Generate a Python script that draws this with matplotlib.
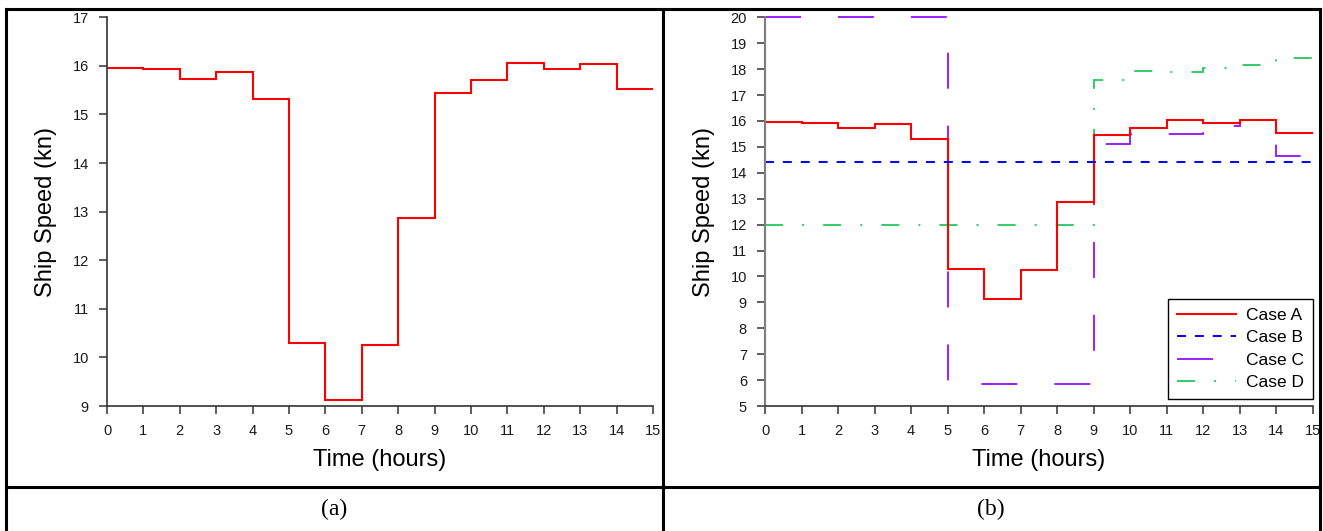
import numpy as np
import matplotlib
matplotlib.use("Agg")
import matplotlib.pyplot as plt
from matplotlib.lines import Line2D

plt.rcParams['font.family'] = ['Liberation Sans', 'DejaVu Sans']

# hourly speed profiles (kn), one value per hour 0-15
hours = np.arange(0, 16)
case_a = [15.95, 15.93, 15.73, 15.87, 15.32, 10.30, 9.12, 10.25, 12.87,
          15.45, 15.71, 16.05, 15.93, 16.03, 15.52]
case_b = [14.4] * 15
case_c = [20.0, 20.0, 20.0, 20.0, 20.0, 5.85, 5.85, 5.85, 5.85,
          15.10, 15.50, 15.50, 15.81, 16.02, 14.65]
case_d = [12.0, 12.0, 12.0, 12.0, 12.0, 12.0, 12.0, 12.0, 12.0,
          17.57, 17.92, 17.87, 18.06, 18.14, 18.42]

W, H = 1323, 531
fig = plt.figure(figsize=(W / 100, H / 100), dpi=100)

# dash patterns (in units of line width)
ls_b = (0, (4.6, 4.6))
ls_c = (0, (18.5, 19.0))
ls_d = (0, (9.3, 9.8, 1.0, 9.8))

def px_axes(x0, x1, ytop, ybot):
    return fig.add_axes([x0 / W, (H - ybot) / H, (x1 - x0) / W, (ybot - ytop) / H])

def style(ax, left_col):
    for s in ['top', 'right']:
        ax.spines[s].set_visible(False)
    ax.spines['bottom'].set_color('#333333')
    ax.spines['bottom'].set_linewidth(1.2)
    ax.spines['left'].set_color(left_col)
    ax.spines['left'].set_linewidth(1.6 if left_col != '#333333' else 1.2)
    ax.tick_params(direction='out', length=6, width=1.1, color='#333333',
                   labelsize=10.5, labelcolor='#1a1a1a', pad=7)
    ax.set_xlim(0, 15)
    ax.set_xticks(hours)
    ax.set_xlabel('Time (hours)', fontsize=17, labelpad=8)
    ax.set_ylabel('Ship Speed (kn)', fontsize=17, labelpad=11)

# (a)
ax1 = px_axes(107, 653, 17.3, 406)
ax1.stairs(case_a, hours, baseline=None, color='#ff0000', lw=1.5)
ax1.set_ylim(9, 17)
ax1.set_yticks(np.arange(9, 18))
style(ax1, '#333333')

# (b)
ax2 = px_axes(765, 1312.7, 17.3, 406)
ax2.stairs(case_d, hours, baseline=None, color='#33cc66', lw=1.4,
           linestyle=ls_d, clip_on=False)
ax2.stairs(case_c, hours, baseline=None, color='#9b1fff', lw=1.4,
           linestyle=ls_c, clip_on=False)
ax2.stairs(case_a, hours, baseline=None, color='#ff0000', lw=1.5)
ax2.stairs(case_b, hours, baseline=None, color='#0000ff', lw=1.4,
           linestyle=ls_b)
ax2.set_ylim(5, 20)
ax2.set_yticks(np.arange(5, 21))
style(ax2, '#808080')
handles = [Line2D([], [], color='#ff0000', lw=1.5),
           Line2D([], [], color='#0000ff', lw=1.4, linestyle=ls_b),
           Line2D([], [], color='#9b1fff', lw=1.4, linestyle=ls_c),
           Line2D([], [], color='#33cc66', lw=1.4, linestyle=ls_d)]
leg = ax2.legend(handles, ['Case A', 'Case B', 'Case C', 'Case D'],
                 loc='lower right', bbox_to_anchor=(1.0, 0.018), borderaxespad=0,
                 fontsize=12.5, handlelength=3.4, fancybox=False, framealpha=1,
                 edgecolor='black', labelspacing=0.42, borderpad=0.5,
                 handletextpad=0.6)
leg.get_frame().set_linewidth(1.0)

# table frame around the two panels
def fline(xs, ys):
    fig.add_artist(Line2D([x / W for x in xs], [1 - y / H for y in ys],
                          transform=fig.transFigure, color='black', lw=2.2))

fline([6, 1320], [9, 9])
fline([6, 6], [9, H + 5])
fline([1320, 1320], [9, H + 5])
fline([663, 663], [9, H + 5])
fline([6, 1320], [487, 487])

fig.text(334 / W, 1 - 509 / H, '(a)', ha='center', va='center', fontsize=17,
         family=['Liberation Serif', 'DejaVu Serif'])
fig.text(991 / W, 1 - 509 / H, '(b)', ha='center', va='center', fontsize=17,
         family=['Liberation Serif', 'DejaVu Serif'])

fig.savefig('out.png', dpi=100)
